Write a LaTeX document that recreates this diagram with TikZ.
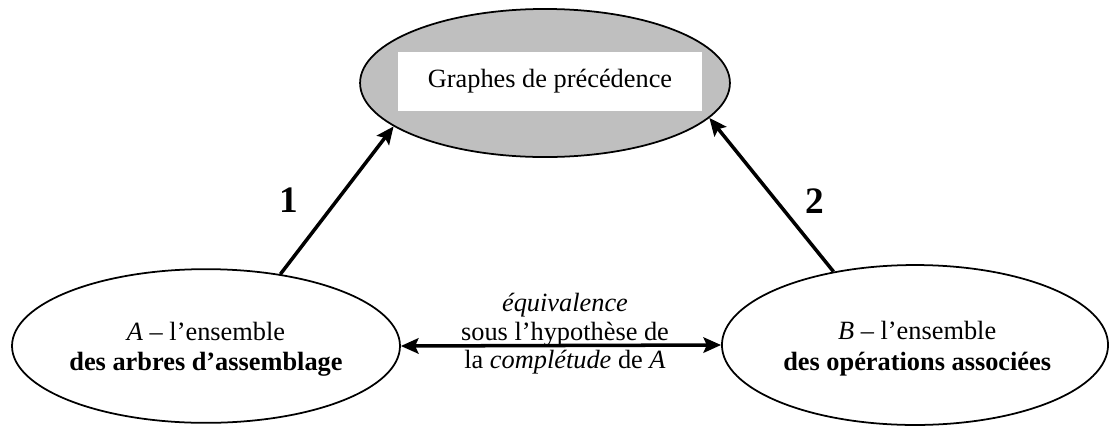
\documentclass[tikz,border=0pt]{standalone}
\usepackage{fontspec}
\setmainfont{Liberation Serif}
\usepackage{tikz}
\usetikzlibrary{
    shapes.geometric, arrows.meta, positioning, calc
}
\tikzset{
  ens/.style={ellipse, draw, line width=0.8pt, inner sep=0pt},
  enslbl/.style={align=center, font=\fontsize{12}{14}\selectfont},
  titlebox/.style={rectangle, fill=white, inner sep=0pt,
                   font=\fontsize{12}{14}\selectfont},
  arr/.style={-{Stealth[length=8pt, width=7pt, inset=1.5pt]}, line width=1.6pt},
  biarr/.style={{Stealth[length=8pt, width=7pt, inset=1.5pt]}-{Stealth[length=8pt, width=7pt, inset=1.5pt]},
                line width=1.6pt},
  num/.style={font=\fontsize{17}{20}\selectfont\bfseries},
}

\begin{document}
\begin{tikzpicture}[x=0.016cm, y=-0.016cm,
  midlbl/.style={align=center, font=\fontsize{12}{13}\selectfont}
]
  \useasboundingbox (0,0) rectangle (1109,425);
  \node[ens, fill=black!25, minimum width=5.92cm, minimum height=2.37cm] (prec) at (545,83) {};
  \node[titlebox, minimum width=4.86cm, minimum height=0.94cm] (title) at (550,81.5) {Graphes de précédence};
  \node[ens, minimum width=6.21cm, minimum height=2.46cm] (arbres) at (206,346) {};
  \node[ens, minimum width=6.18cm, minimum height=2.56cm] (ops) at (915,345) {};
  \node[enslbl, yshift=-1.5pt] (arbrestxt) at (arbres) {\textit{A} -- l’ensemble\\\textbf{des arbres d’assemblage}};
  \node[enslbl, yshift=-1.5pt, xshift=1pt] (opstxt) at (ops) {\textit{B} -- l’ensemble\\\textbf{des opérations associées}};
  \draw[arr] (arbres.44) -- (prec.196) node[midway, left=0.48cm, num] {1};
  \draw[arr] (ops.138) -- (prec.348) node[midway, right=0.4cm, yshift=-3pt, num] {2};
  \draw[biarr] (arbres.east) -- (ops.west);
  \node[midlbl] (equiv) at (565,334) {\textit{équivalence}\\sous l’hypothèse de\\la \textit{complétude} de \textit{A}};
\end{tikzpicture}
\end{document}
